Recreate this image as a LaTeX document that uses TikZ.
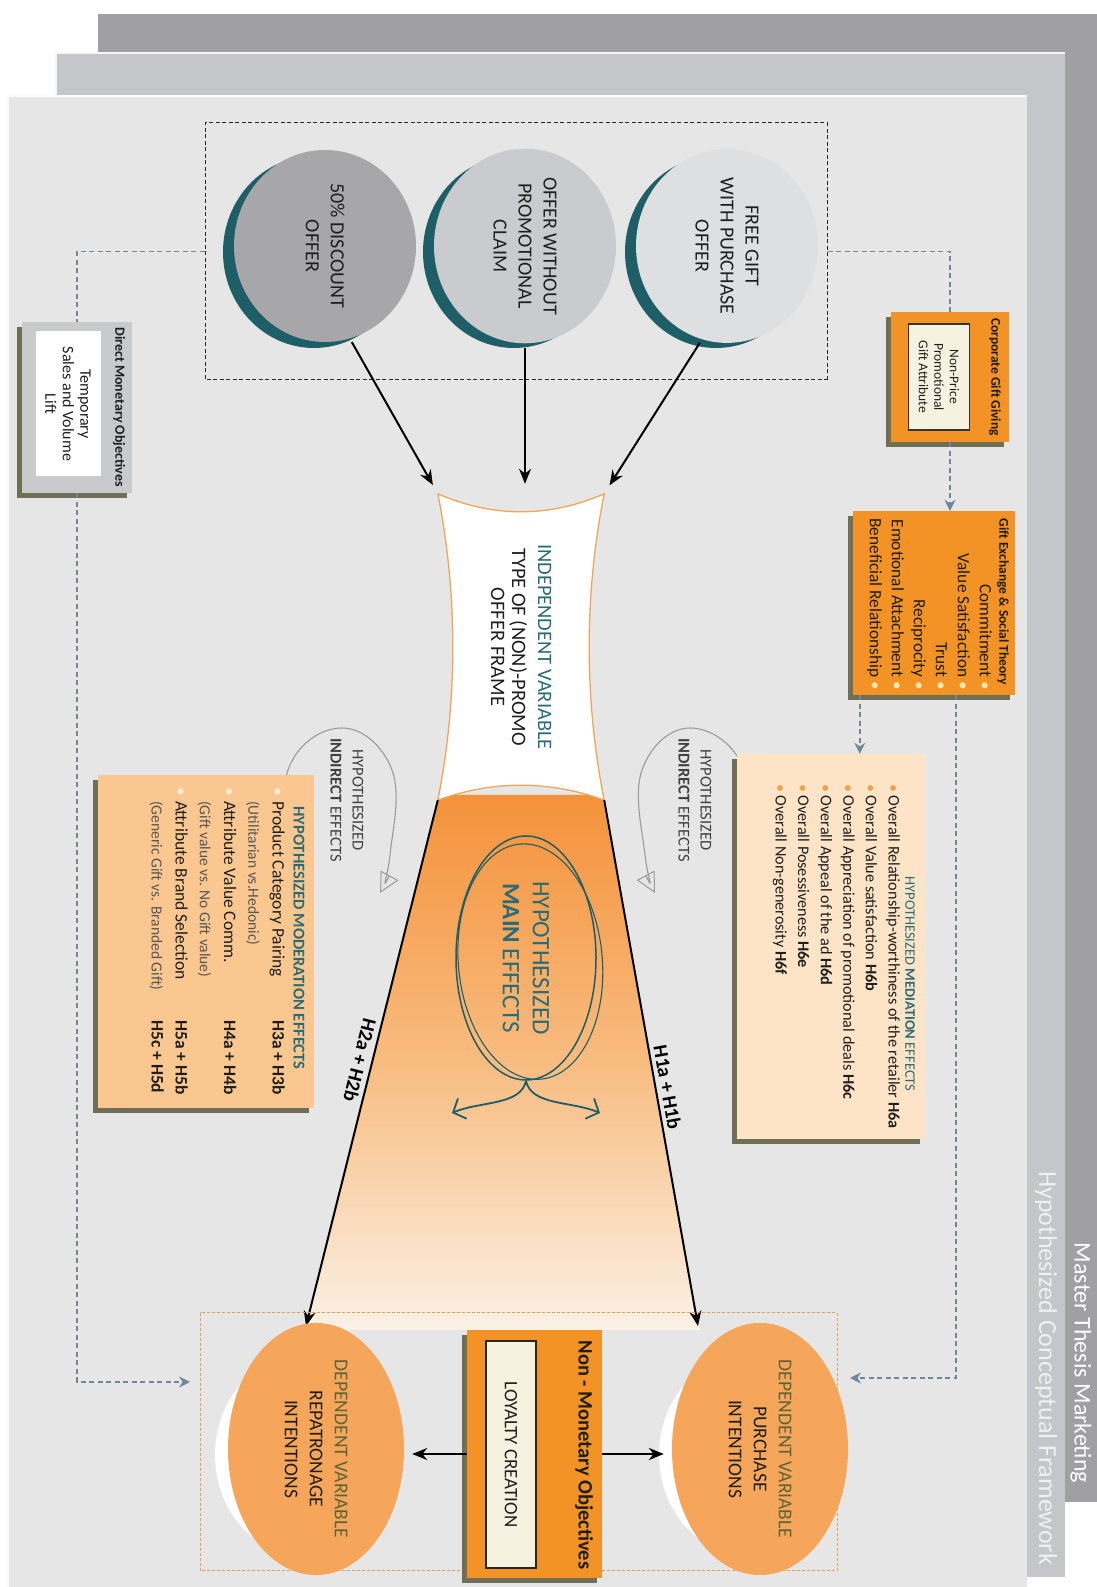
\documentclass[tikz,border=0pt]{standalone}
\usepackage{fontspec}
\setmainfont{Carlito}
\usetikzlibrary{arrows.meta,shapes.geometric,calc}
\definecolor{pdark}{HTML}{A0A0A3}
\definecolor{pmid}{HTML}{C4C6C9}
\definecolor{plight}{HTML}{E6E6E6}
\definecolor{tealc}{HTML}{1E5E66}
\definecolor{tealtxt}{HTML}{2B6B74}
\definecolor{circA}{HTML}{DEDFE0}
\definecolor{circB}{HTML}{C9CBCE}
\definecolor{circC}{HTML}{A7A7A9}
\definecolor{orbox}{HTML}{F39325}
\definecolor{cream}{HTML}{F5F3E0}
\definecolor{medfill}{HTML}{FDE4C6}
\definecolor{modfill}{HTML}{FBC791}
\definecolor{shad}{HTML}{6F6E56}
\definecolor{conn}{HTML}{6E8898}
\definecolor{depfill}{HTML}{F6A65A}
\definecolor{depdash}{HTML}{E8A050}
\definecolor{funtop}{HTML}{F4923A}
\definecolor{funmid}{HTML}{F8BC80}
\definecolor{funbot}{HTML}{FBF1E6}
\definecolor{olivetxt}{HTML}{5A6436}
\definecolor{ybul}{HTML}{FCE8A6}
\definecolor{obul}{HTML}{F2A04A}
\definecolor{mbul}{HTML}{FDEBD2}
\definecolor{swirlc}{HTML}{9A9A9A}
\definecolor{dmofill}{HTML}{C8CACC}
\definecolor{ivborder}{HTML}{F0A658}
\definecolor{txt}{HTML}{1E1E1E}
\newcommand\fsz[2]{\fontsize{#1}{#2}\selectfont}
\newcommand\boxat[6]{\fill[shad] ({#2+5},{#3-5}) rectangle ({#4+5},{#5-5});
  \node[#6, inner sep=0, minimum width={#4-#2}, minimum height={#5-#3}] (#1) at ({(#2+#4)/2},{(#3+#5)/2}) {};}
\tikzset{
  arr/.style={draw=black, line width=2pt, -{Stealth[length=15pt,width=12pt]}},
  dcon/.style={draw=conn, line width=1.4pt, dash pattern=on 5pt off 3.5pt},
  dconarr/.style={dcon, -{Stealth[length=11pt,width=11pt,fill=conn]}},
  offer/.style={ellipse, inner sep=0, minimum width=192pt, minimum height=182pt, align=center, text=txt, font=\fsz{20}{25}},
  dep/.style={ellipse, fill=depfill, inner sep=0, minimum width=200pt, minimum height=176pt, align=center, text=txt, font=\fsz{19.5}{25}},
  lbl/.style={inner sep=0, align=center},
  swirl/.style={draw=swirlc, line width=1.1pt, -{Triangle[open,length=20pt,width=20pt,line width=1pt]}},
}
\begin{document}
\begin{tikzpicture}[x=1pt,y=1pt]
\begin{scope}[shift={(0,1587)},rotate=-90,every node/.append style={transform shape}]
\useasboundingbox (0,0) rectangle (1587,1097);
\fill[white] (0,0) rectangle (1587,1097);
% panels
\fill[pdark] (14,98) rectangle (1502,1097);
\fill[pmid] (53,56) rectangle (1577,1065);
\draw[white!85!pmid, line width=1.2pt] (1577,56) -- (53,56) -- (53,1065);
\fill[plight] (96,8) rectangle (1587,1027);
\draw[white!85!plight, line width=1.2pt] (1587,8) -- (96,8) -- (96,1027);
\node[lbl, text=white, font=\fsz{24}{28}] (t1) at (1363,1081) {Master Thesis Marketing};
\node[lbl, text=white!94!black, font=\fsz{26}{30}] (t2) at (1368,1046) {Hypothesized Conceptual Framework};

% offers
\node[draw=black!85, dash pattern=on 4pt off 2.5pt, line width=1pt, minimum width=257pt, minimum height=622pt, inner sep=0] (offers) at (251.5,516) {};
\fill[tealc] (252,716) ellipse [x radius=96, y radius=91];
\node[offer, fill=circA] (fg) at (246,727) {FREE GIFT\\WITH PURCHASE\\OFFER};
\fill[tealc] (252,514) ellipse [x radius=96, y radius=91];
\node[offer, fill=circB] (nc) at (246,525) {OFFER WITHOUT\\PROMOTIONAL\\CLAIM};
\fill[tealc] (252,314) ellipse [x radius=96, y radius=91];
\node[offer, fill=circC] (dc) at (246,325) {50\% DISCOUNT\\OFFER};

% funnel (shading follows the page, not the scope)
\shade[top color=funtop, bottom color=funbot, middle color=funmid] (795,440) -- (795,602) -- (1330,700) -- (1330,304) -- cycle;

% independent variable
\node[inner sep=0, minimum width=306pt, minimum height=166pt] (iv) at (647,521) {};
\draw[draw=ivborder, fill=white, line width=1.3pt] (iv.south west) .. controls +(100,20) and +(-100,20) .. (iv.south east) .. controls +(-20,55) and +(-20,-55) .. (iv.north east) .. controls +(-100,-20) and +(100,-20) .. (iv.north west) .. controls +(24,-55) and +(24,55) .. (iv.south west);
\node[lbl, font=\fsz{20.5}{26}, text=txt] (ivtxt) at (iv.center) {\textcolor{tealtxt}{INDEPENDENT VARIABLE}\\TYPE OF (NON)-PROMO\\[-5pt]OFFER FRAME};

\draw[arr, shorten <=4pt, shorten >=10pt] (fg.-15) -- (iv.north west);
\draw[arr, shorten <=4pt, shorten >=10pt] (nc.east) -- (nc.east -| iv.west);
\draw[arr, shorten <=4pt, shorten >=10pt] (dc.15) -- (iv.south west);

\coordinate (h1tip) at (1326,698);
\coordinate (h2tip) at (1326,306);
\draw[arr] (iv.north east) -- node[pos=0.55, rotate=10, anchor=south, inner sep=4pt, font=\bfseries\fsz{20}{22}] (h1lbl) {H1a + H1b} (h1tip);
\draw[arr] (iv.south east) -- node[pos=0.5, rotate=-14, anchor=north, inner sep=4pt, font=\bfseries\fsz{20}{22}] (h2lbl) {H2a + H2b} (h2tip);

% main effects
\node[ellipse, draw=tealc, line width=1.5pt, minimum width=244pt, minimum height=140pt, inner sep=0, align=center, text=tealtxt, font=\fsz{25}{30}] (mainfx) at (958,526) {HYPOTHESIZED\\\textbf{MAIN} EFFECTS};
\draw[tealc, line width=1.1pt, rotate around={5:(958,526)}] (962,530) ellipse [x radius=118, y radius=72];
\coordinate (mfl) at (1113,452);
\coordinate (mfr) at (1113,600);
\draw[tealc, line width=1.8pt, -{Straight Barb[length=10pt,width=22pt,line width=1.8pt]}] (mainfx.east) .. controls +(25,-5) and +(-12,28) .. (mfl);
\draw[tealc, line width=1.8pt, -{Straight Barb[length=10pt,width=22pt,line width=1.8pt]}] (mainfx.east) .. controls +(25,5) and +(-12,-28) .. (mfr);

% indirect effects
\node[lbl, font=\fsz{16.5}{22}, text=txt!85] (ind1) at (800,695) {HYPOTHESIZED\\\textbf{INDIRECT} EFFECTS};
\draw[swirl] plot[smooth, tension=0.7] coordinates {(868,740) (770,744) (728,690) (770,642) (855,645) (893,655)};
\node[lbl, font=\fsz{16.5}{22}, text=txt!85] (ind2) at (800,347) {HYPOTHESIZED\\\textbf{INDIRECT} EFFECTS};
\draw[swirl] plot[smooth, tension=0.7] coordinates {(868,292) (770,288) (728,342) (770,392) (855,390) (893,380)};

% corporate gift giving
\boxat{cgg}{312}{891}{442}{1009}{fill=orbox}
\node[lbl, font=\bfseries\fsz{13.5}{15}, text=txt] (cggt) at (377,995) {Corporate Gift Giving};
\node[draw=black!80, line width=1.3pt, fill=cream, inner sep=0, minimum width=106pt, minimum height=61pt, align=center, font=\fsz{13.5}{15.5}, text=txt] (cggin) at (377,939) {Non-Price\\Promotional\\Gift Attribute};

% gift exchange
\boxat{gex}{511}{853}{695}{1015}{fill=orbox}
\node[lbl, font=\bfseries\fsz{13.5}{15}, text=txt] (gext) at (602,1003) {Gift Exchange \& Social Theory};
\node[anchor=north east, align=right, inner sep=0, font=\fsz{17.3}{22}, text=txt] (gexitems) at (690,992) {Commitment \textcolor{ybul}{•}\\Value Satisfaction \textcolor{ybul}{•}\\Trust \textcolor{ybul}{•}\\Reciprocity \textcolor{ybul}{•}\\Emotional Attachment \textcolor{ybul}{•}\\Beneficial Relationship \textcolor{ybul}{•}};

% mediation
\boxat{med}{754}{737}{1139}{925}{fill=medfill}
\node[lbl, font=\fsz{14.5}{16}, text=tealtxt] (medt) at (984,910) {HYPOTHESIZED \textbf{MEDIATION} EFFECTS};
\node[anchor=north west, align=left, inner sep=0, font=\fsz{16.2}{22.6}, text=txt] (meditems) at (784,900) {\textcolor{obul}{•} Overall Relationship-worthiness of the retailer \textbf{H6a}\\\textcolor{obul}{•} Overall Value satisfaction \textbf{H6b}\\\textcolor{obul}{•} Overall Appreciation of promotional deals \textbf{H6c}\\\textcolor{obul}{•} Overall Appeal of the ad \textbf{H6d}\\\textcolor{obul}{•} Overall Posessiveness \textbf{H6e}\\\textcolor{obul}{•} Overall Non-generosity \textbf{H6f}};

% moderation
\boxat{mod}{775}{98}{1108}{314}{fill=modfill}
\node[lbl, font=\bfseries\fsz{16.5}{18}, text=tealtxt] (modt) at (938,299) {HYPOTHESIZED MODERATION EFFECTS};
\node[anchor=north west, align=left, inner sep=0, font=\fsz{17.5}{24.2}, text=txt] (moditems) at (787,285) {\makebox[14pt][l]{\textcolor{mbul}{•}}\makebox[219pt][l]{Product Category Pairing}\textbf{H3a + H3b}\\\hspace*{14pt}{\fsz{15.5}{24.2}\color{txt!75}(Utilitarian vs.Hedonic)}\\\makebox[14pt][l]{\textcolor{mbul}{•}}\makebox[219pt][l]{Attribute Value Comm.}\textbf{H4a + H4b}\\\hspace*{14pt}{\fsz{15.5}{24.2}\color{txt!75}(Gift value vs. No Gift value)}\\\makebox[14pt][l]{\textcolor{mbul}{•}}\makebox[219pt][l]{Attribute Brand Selection}\textbf{H5a + H5b}\\\hspace*{14pt}\makebox[219pt][l]{\fsz{15.5}{24.2}\color{txt!75}(Generic Gift vs. Branded Gift)}\textbf{H5c + H5d}};

% direct monetary
\boxat{dmo}{322}{22}{493}{132}{fill=dmofill}
\node[lbl, font=\bfseries\fsz{14}{16}, text=txt] (dmot) at (407,119) {Direct Monetary Objectives};
\node[fill=white, inner sep=0, minimum width=145pt, minimum height=65pt, align=center, font=\fsz{16}{17.5}, text=txt] (dmoin) at (404,68) {Temporary\\Sales and Volume\\Lift};

% dependent box
\node[draw=depdash, dash pattern=on 3pt off 2pt, line width=1pt, minimum width=258pt, minimum height=637pt, inner sep=0] (depbox) at (1442,518.5) {};
\fill[white] (1455,747) ellipse [x radius=100, y radius=88];
\node[dep] (pur) at (1449,760) {\textcolor{olivetxt}{DEPENDENT VARIABLE}\\PURCHASE\\INTENTIONS};
\fill[white] (1455,303) ellipse [x radius=100, y radius=88];
\node[dep] (rep) at (1449,316) {\textcolor{olivetxt}{DEPENDENT VARIABLE}\\REPATRONAGE\\INTENTIONS};

% non-monetary
\boxat{nmo}{1330}{467}{1578}{602}{fill=orbox}
\node[lbl, font=\bfseries\fsz{20.5}{24}, text=txt] (nmot) at (1455,584) {Non - Monetary Objectives};
\node[draw=black!85, line width=1.5pt, fill=cream, inner sep=0, minimum width=227pt, minimum height=50pt, font=\fsz{19}{21}, text=txt] (loy) at (1454.5,511) {LOYALTY CREATION};
\draw[arr, shorten >=8pt] (nmo.north) -- (nmo.north |- pur.south);
\draw[arr, shorten >=8pt] (nmo.south) -- (nmo.south |- rep.north);

% dashed connectors
\draw[dcon] (offers.north) |- (cgg.west);
\draw[dconarr] (cgg.east) -- (gex.west |- cgg.east);
\draw[dconarr] ([yshift=7pt]gex.south east) -- ([yshift=7pt]gex.south east -| med.west);
\coordinate (rtip) at (1378,850);
\draw[dconarr] ([yshift=22pt]gex.east) -| (rtip);
\draw[dcon] (offers.south) |- (dmo.west);
\coordinate (ltip) at (1382,190);
\draw[dconarr] (dmo.east) -| (ltip);
\end{scope}
\end{tikzpicture}
\end{document}
